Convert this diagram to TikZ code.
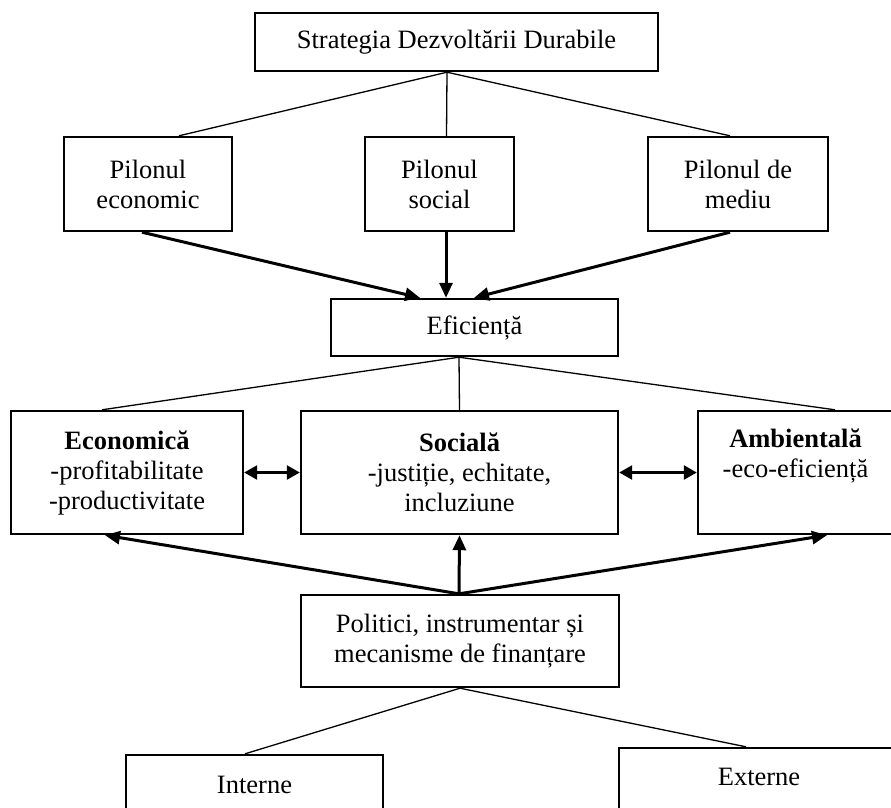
\documentclass[tikz,border=0pt]{standalone}
\usepackage{fontspec}
\setmainfont{Liberation Serif}
\usetikzlibrary{arrows.meta,calc}

\tikzset{
  every node/.style={font=\fontsize{26.5}{30}\selectfont},
  box/.style={draw, line width=2.4pt, inner sep=0pt, align=center},
  thin/.style={line width=1.3pt},
  flow/.style={line width=3pt, -{Triangle[length=15pt,width=13pt]}},
  twoway/.style={line width=2.6pt, {Triangle[length=13pt,width=14pt]}-{Triangle[length=13pt,width=14pt]}},
}

\begin{document}
\begin{tikzpicture}[x=1pt, y=-1pt]
  \useasboundingbox (0,0) rectangle (891,807);
  \clip (0,0) rectangle (891,807);
  \fill[white] (0,0) rectangle (891,807);

  % strategy and its three pillars
  \node[box, minimum width=403pt, minimum height=58pt] (sdd) at (456.5,42) {Strategia Dezvoltării Durabile};
  \node[box, minimum width=168pt, minimum height=94pt] (pe) at (148,184) {Pilonul\\economic};
  \node[box, minimum width=149pt, minimum height=94pt] (ps) at (439.5,184) {Pilonul\\social};
  \node[box, minimum width=180pt, minimum height=94pt] (pm) at (738,184) {Pilonul de\\mediu};

  % efficiency
  \node[box, minimum width=287pt, minimum height=57pt] (ef) at (474.5,327.5) {Eficiență};

  % dimensions of efficiency
  \node[box, minimum width=232pt, minimum height=123pt] (ec) at (127,472.5)
    {\textbf{Economică}\\-profitabilitate\\-productivitate};
  \node[box, minimum width=317pt, minimum height=123pt] (so) at (459.5,472.5)
    {\textbf{Socială}\\-justiție, echitate,\\incluziune};
  \node[box, minimum width=195pt, minimum height=123pt] (am) at (795.5,472.5)
    {\textbf{Ambientală}\\-eco-eficiență\\\strut};

  % policies and their sources
  \node[box, minimum width=318pt, minimum height=92pt] (po) at (460,641)
    {Politici, instrumentar și\\mecanisme de finanțare};
  \node[box, minimum width=257pt, text height=20pt, text depth=70pt, inner ysep=18pt, anchor=base] (in) at (254.5,793) {Interne};
  \node[box, minimum width=280pt, text height=20pt, text depth=70pt, inner ysep=17pt, anchor=base] (ex) at (759,785) {Externe};

  % junction points on box borders
  \coordinate (sddJ) at ($(sdd.south)+(-9.5,0)$);
  \coordinate (efJ) at ($(ef.south)+(-15.5,0)$);

  % thin links
  \draw[thin] (sddJ) -- ($(pe.north)+(31,0)$);
  \draw[thin] (sddJ) -- ($(ps.north)+(7,0)$);
  \draw[thin] (sddJ) -- ($(pm.north)+(-8,0)$);
  \draw[thin] (efJ) -- ($(ec.north)+(-25,0)$);
  \draw[thin] (efJ) -- (so.north);
  \draw[thin] (efJ) -- ($(am.north)+(39.5,0)$);
  \draw[thin] (po.south) -- ($(in.north)+(-9.5,0)$);
  \draw[thin] (po.south) -- ($(ex.north)+(-13,0)$);

  % pillars feed efficiency
  \draw[flow] ($(pe.south)+(-6,0)$) -- ($(ef.north)+(-54.5,0)$);
  \draw[flow] ($(ps.south)+(6.5,0)$) -- ($(ef.north)+(-28.5,0)$);
  \draw[flow] ($(pm.south)+(-8,0)$) -- ($(ef.north)+(-0.5,0)$);

  % policies act on each dimension
  \draw[flow] ($(po.north)+(-1,0)$) -- ($(ec.south)+(-22,0)$);
  \draw[flow] ($(po.north)+(-1,0)$) -- (so.south);
  \draw[flow] ($(po.north)+(-1,0)$) -- ($(am.south)+(31.5,0)$);

  % mutual links between dimensions
  \draw[twoway] (ec.east) -- (so.west);
  \draw[twoway] (so.east) -- (am.west);
\end{tikzpicture}
\end{document}
